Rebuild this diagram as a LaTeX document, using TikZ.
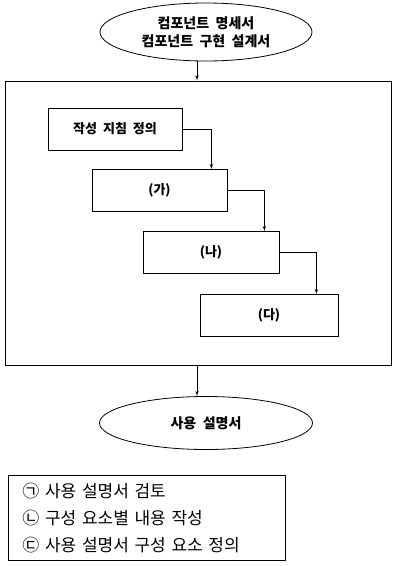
\documentclass[tikz,border=0pt]{standalone}
\usepackage{fontspec}
\newfontfamily\kr[WordSpace=2.5]{Noto Sans CJK KR}
\newfontfamily\krkey[WordSpace=2]{Noto Sans CJK KR}
\usetikzlibrary{arrows,positioning,shapes.geometric}
\tikzstyle{doc}=[ellipse,draw,line width=0.8pt,inner sep=0pt,align=center,font=\kr\bfseries\fontsize{14}{18}\selectfont]
\tikzstyle{stepbox}=[rectangle,draw,line width=0.8pt,minimum height=42pt,text centered,font=\kr\bfseries\fontsize{13}{15}\selectfont]
\tikzstyle{frame}=[rectangle,draw,line width=0.8pt]
\tikzstyle{legend}=[rectangle,draw,line width=0.8pt,align=left,inner xsep=14pt,font=\krkey\fontsize{17}{27}\selectfont]
\tikzstyle{flow}=[-latex',line width=0.7pt]

\begin{document}
\begin{tikzpicture}[x=1pt,y=-1pt]
\useasboundingbox (0,0) rectangle (405,566);

\node (spec) [doc,minimum width=212pt,minimum height=58pt] at (206,32) {컴포넌트 명세서\\컴포넌트 구현 설계서} ;
\node (work) [frame,minimum width=386pt,minimum height=284pt] at (198,223) {} ;

\node (s1) [stepbox,minimum width=134pt] at (115,129) {작성 지침 정의} ;
\node (s2) [stepbox,minimum width=135pt] at (159.5,190.5) {(가)} ;
\node (s3) [stepbox,minimum width=136pt] at (211,252.5) {(나)} ;
\node (s4) [stepbox,minimum width=138pt] at (269,315.5) {(다)} ;

\draw [flow] (s1.east) -| ([xshift=-16pt]s2.north east) ;
\draw [flow] (s2.east) -| ([xshift=-15pt]s3.north east) ;
\draw [flow] (s3.east) -| ([xshift=-22pt]s4.north east) ;

\node (manual) [doc,minimum width=213pt,minimum height=53pt] at (206,423) {사용 설명서} ;

\draw [flow] (spec.south -| 197,0) -- (work.north -| 197,0) ;
\draw [flow] (work.south -| 197,0) -- (manual.north -| 197,0) ;

\node (key) [legend,minimum width=277pt,minimum height=85pt,anchor=north west,text width=249pt] at (8,475) {㉠ 사용 설명서 검토\\㉡ 구성 요소별 내용 작성\\㉢ 사용 설명서 구성 요소 정의} ;

\end{tikzpicture}
\end{document}
